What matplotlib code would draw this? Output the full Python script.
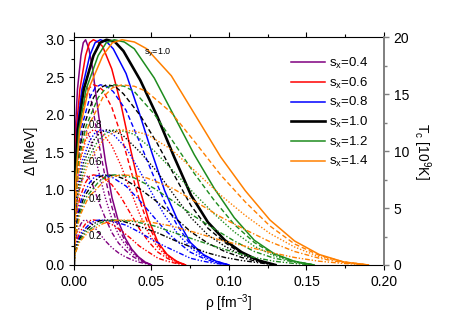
import matplotlib
matplotlib.use("Agg")
import matplotlib.pyplot as plt
from matplotlib.ticker import MultipleLocator

plt.rcParams['font.family'] = ['Liberation Sans', 'DejaVu Sans']
plt.rcParams['mathtext.default'] = 'regular'

# ---- data ----
sx_values = [0.4, 0.6, 0.8, 1.0, 1.2, 1.4]
sy_values = [1.0, 0.8, 0.6, 0.4, 0.2]
sx_colors = ['#800080', '#ff0000', '#0000ff', '#000000', '#1e8c1e', '#ff8000']
sy_labels = ['0.8', '0.6', '0.4', '0.2']

rho_sx04 = [0, 0.000225, 0.0009, 0.00225, 0.0045, 0.006, 0.0075, 0.0096, 0.0118, 0.016,
            0.0203, 0.0245, 0.0288, 0.033, 0.0373, 0.0415, 0.0458, 0.05]
delta_sx04 = [
    [0, 1.05, 1.80, 2.34, 2.79, 2.96, 3.0, 2.88, 2.64, 1.98, 1.38, 0.90, 0.57, 0.36, 0.21, 0.11, 0.04, 0],
    [0, 0.79, 1.39, 1.85, 2.23, 2.36, 2.4, 2.31, 2.13, 1.62, 1.15, 0.77, 0.49, 0.32, 0.19, 0.10, 0.04, 0],
    [0, 0.56, 1.01, 1.37, 1.66, 1.76, 1.8, 1.74, 1.60, 1.24, 0.89, 0.61, 0.40, 0.27, 0.16, 0.09, 0.03, 0],
    [0, 0.35, 0.65, 0.90, 1.10, 1.18, 1.2, 1.16, 1.08, 0.84, 0.62, 0.43, 0.29, 0.20, 0.12, 0.07, 0.03, 0],
    [0, 0.16, 0.31, 0.44, 0.55, 0.59, 0.6, 0.58, 0.54, 0.43, 0.32, 0.23, 0.16, 0.11, 0.07, 0.04, 0.02, 0],
]

rho_sx06 = [0, 0.0004, 0.0015, 0.0038, 0.0075, 0.01, 0.0125, 0.0155, 0.0185, 0.0244,
            0.0304, 0.0363, 0.0423, 0.0482, 0.0542, 0.0601, 0.0661, 0.072]
delta_sx06 = [
    [0, 1.05, 1.80, 2.34, 2.79, 2.96, 3.0, 2.97, 2.91, 2.61, 2.13, 1.56, 1.02, 0.60, 0.30, 0.14, 0.05, 0],
    [0, 0.79, 1.39, 1.85, 2.23, 2.36, 2.4, 2.38, 2.33, 2.10, 1.73, 1.29, 0.86, 0.52, 0.27, 0.13, 0.05, 0],
    [0, 0.56, 1.01, 1.37, 1.66, 1.76, 1.8, 1.78, 1.75, 1.59, 1.32, 1.00, 0.68, 0.42, 0.23, 0.11, 0.04, 0],
    [0, 0.35, 0.65, 0.90, 1.10, 1.18, 1.2, 1.19, 1.17, 1.07, 0.90, 0.69, 0.48, 0.31, 0.17, 0.09, 0.03, 0],
    [0, 0.16, 0.31, 0.44, 0.55, 0.59, 0.6, 0.59, 0.59, 0.54, 0.46, 0.36, 0.25, 0.17, 0.09, 0.05, 0.02, 0],
]

rho_sx08 = [0, 0.0005, 0.002, 0.0051, 0.0102, 0.0136, 0.017, 0.0212, 0.0253, 0.0336,
            0.0419, 0.0502, 0.0585, 0.0668, 0.0751, 0.0834, 0.0917, 0.10]
delta_sx08 = [
    [0, 1.05, 1.80, 2.34, 2.79, 2.96, 3.0, 2.97, 2.88, 2.55, 2.04, 1.50, 0.99, 0.60, 0.30, 0.14, 0.05, 0],
    [0, 0.79, 1.39, 1.85, 2.23, 2.36, 2.4, 2.38, 2.31, 2.06, 1.66, 1.24, 0.84, 0.52, 0.27, 0.13, 0.05, 0],
    [0, 0.56, 1.01, 1.37, 1.66, 1.76, 1.8, 1.78, 1.74, 1.56, 1.27, 0.96, 0.66, 0.42, 0.23, 0.11, 0.04, 0],
    [0, 0.35, 0.65, 0.90, 1.10, 1.18, 1.2, 1.19, 1.16, 1.05, 0.87, 0.67, 0.47, 0.31, 0.17, 0.09, 0.03, 0],
    [0, 0.16, 0.31, 0.44, 0.55, 0.59, 0.6, 0.59, 0.58, 0.53, 0.44, 0.34, 0.25, 0.17, 0.09, 0.05, 0.02, 0],
]

rho_sx10 = [0, 0.0006, 0.0025, 0.0063, 0.0126, 0.0168, 0.021, 0.0265, 0.0319, 0.0428,
            0.0537, 0.0646, 0.0755, 0.0864, 0.0973, 0.1082, 0.1191, 0.13]
delta_sx10 = [
    [0, 1.05, 1.80, 2.34, 2.79, 2.96, 3.0, 2.97, 2.85, 2.46, 1.98, 1.44, 0.93, 0.57, 0.33, 0.17, 0.06, 0],
    [0, 0.79, 1.39, 1.85, 2.23, 2.36, 2.4, 2.38, 2.28, 1.99, 1.62, 1.20, 0.79, 0.49, 0.30, 0.15, 0.06, 0],
    [0, 0.56, 1.01, 1.37, 1.66, 1.76, 1.8, 1.78, 1.72, 1.50, 1.24, 0.93, 0.63, 0.40, 0.25, 0.13, 0.05, 0],
    [0, 0.35, 0.65, 0.90, 1.10, 1.18, 1.2, 1.19, 1.15, 1.01, 0.84, 0.64, 0.44, 0.29, 0.18, 0.10, 0.04, 0],
    [0, 0.16, 0.31, 0.44, 0.55, 0.59, 0.6, 0.59, 0.58, 0.51, 0.43, 0.33, 0.24, 0.16, 0.10, 0.06, 0.03, 0],
]

rho_sx12 = [0, 0.0008, 0.0031, 0.0078, 0.0156, 0.0208, 0.026, 0.0325, 0.0389, 0.0518,
            0.0647, 0.0776, 0.0905, 0.1034, 0.1163, 0.1292, 0.1421, 0.155]
delta_sx12 = [
    [0, 1.05, 1.80, 2.34, 2.79, 2.96, 3.0, 2.97, 2.88, 2.49, 1.98, 1.47, 1.02, 0.63, 0.33, 0.15, 0.05, 0],
    [0, 0.79, 1.39, 1.85, 2.23, 2.36, 2.4, 2.38, 2.31, 2.01, 1.62, 1.22, 0.86, 0.54, 0.30, 0.14, 0.05, 0],
    [0, 0.56, 1.01, 1.37, 1.66, 1.76, 1.8, 1.78, 1.74, 1.52, 1.24, 0.95, 0.68, 0.44, 0.25, 0.12, 0.04, 0],
    [0, 0.35, 0.65, 0.90, 1.10, 1.18, 1.2, 1.19, 1.16, 1.02, 0.84, 0.65, 0.48, 0.32, 0.18, 0.09, 0.04, 0],
    [0, 0.16, 0.31, 0.44, 0.55, 0.59, 0.6, 0.59, 0.58, 0.52, 0.43, 0.34, 0.25, 0.17, 0.10, 0.05, 0.02, 0],
]

rho_sx14 = [0, 0.0009, 0.0037, 0.0093, 0.0186, 0.0248, 0.031, 0.039, 0.0469, 0.0628,
            0.0787, 0.0946, 0.1105, 0.1264, 0.1423, 0.1582, 0.1741, 0.19]
delta_sx14 = [
    [0, 1.05, 1.80, 2.34, 2.79, 2.96, 3.0, 2.97, 2.88, 2.52, 1.98, 1.44, 0.99, 0.60, 0.32, 0.14, 0.04, 0],
    [0, 0.79, 1.39, 1.85, 2.23, 2.36, 2.4, 2.38, 2.31, 2.03, 1.62, 1.20, 0.84, 0.52, 0.28, 0.13, 0.04, 0],
    [0, 0.56, 1.01, 1.37, 1.66, 1.76, 1.8, 1.78, 1.74, 1.54, 1.24, 0.93, 0.66, 0.42, 0.24, 0.11, 0.04, 0],
    [0, 0.35, 0.65, 0.90, 1.10, 1.18, 1.2, 1.19, 1.16, 1.03, 0.84, 0.64, 0.47, 0.31, 0.18, 0.09, 0.03, 0],
    [0, 0.16, 0.31, 0.44, 0.55, 0.59, 0.6, 0.59, 0.58, 0.52, 0.43, 0.33, 0.25, 0.17, 0.10, 0.05, 0.02, 0],
]

rho_sets = [rho_sx04, rho_sx06, rho_sx08, rho_sx10, rho_sx12, rho_sx14]
delta_sets = [delta_sx04, delta_sx06, delta_sx08, delta_sx10, delta_sx12, delta_sx14]

# ---- styles ----
sy_styles = ['-', (0, (3.5, 2.0)), (0, (1.0, 1.3)), (0, (3.5, 1.5, 1.0, 1.5)),
             (0, (3.5, 1.3, 1.0, 1.3, 1.0, 1.3))]

fig = plt.figure(figsize=(4.55, 3.18), dpi=100)
ax = fig.add_axes([0.1626, 0.1667, 0.6813, 0.7154])

for i, sx in enumerate(sx_values):
    rho = rho_sets[i]
    for j, sy in enumerate(sy_values):
        lw = 1.0
        if j == 0 and sx == 1.0:
            lw = 1.9
        elif j == 0:
            lw = 1.1
        ax.plot(rho, delta_sets[i][j], color=sx_colors[i], linestyle=sy_styles[j],
                linewidth=lw, solid_joinstyle='round',
                label=('s$_x$=%.1f' % sx) if j == 0 else None)

ax.set_xlim(0, 0.20)
ax.set_ylim(0, 3.03)
ax.xaxis.set_minor_locator(MultipleLocator(0.025))
ax.yaxis.set_major_locator(MultipleLocator(0.5))
ax.yaxis.set_minor_locator(MultipleLocator(0.25))
ax.set_xticks([0, 0.05, 0.10, 0.15, 0.20])
ax.set_xticklabels(['0.00', '0.05', '0.10', '0.15', '0.20'])
ax.tick_params(which='both', direction='out', top=True, right=False, labelsize=10)
ax.tick_params(which='major', length=3.5, width=0.8)
ax.tick_params(which='minor', length=2.0, width=0.8)
ax.spines['right'].set_visible(False)
ax.set_xlabel('ρ [fm$^{-3}$]', fontsize=10, labelpad=3)
ax.set_ylabel('Δ [MeV]', fontsize=10, labelpad=5)

# right axis (temperature)
ax2 = ax.twinx()
ax2.set_ylim(0, 20)
ax2.yaxis.set_major_locator(MultipleLocator(5))
ax2.yaxis.set_minor_locator(MultipleLocator(2.5))
for s in ['left', 'top', 'bottom']:
    ax2.spines[s].set_visible(False)
ax2.spines['right'].set_color('#7f7f7f')
ax2.spines['right'].set_linewidth(1.4)
ax2.tick_params(which='both', direction='out', color='#7f7f7f', labelsize=10)
ax2.tick_params(which='major', length=3.5, width=1.0)
ax2.tick_params(which='minor', length=2.0, width=1.0)
ax2.set_ylabel('T$_c$ [10$^9$K]', fontsize=10, rotation=270, labelpad=17)

# labels of s_y curves
ax.text(0.0452, 2.83, 's$_y$=1.0', fontsize=6.5, va='center', ha='left')
label_y = [1.87, 1.37, 0.88, 0.39]
for lab, yv in zip(sy_labels, label_y):
    ax.text(0.0095, yv, lab, fontsize=7, va='center', ha='left')

leg = ax.legend(loc='upper left', bbox_to_anchor=(0.70, 0.92), frameon=False,
                fontsize=9.5, handlelength=2.6, handletextpad=0.3,
                labelspacing=0.35, borderpad=0, borderaxespad=0)

fig.savefig('out.png', dpi=100)
